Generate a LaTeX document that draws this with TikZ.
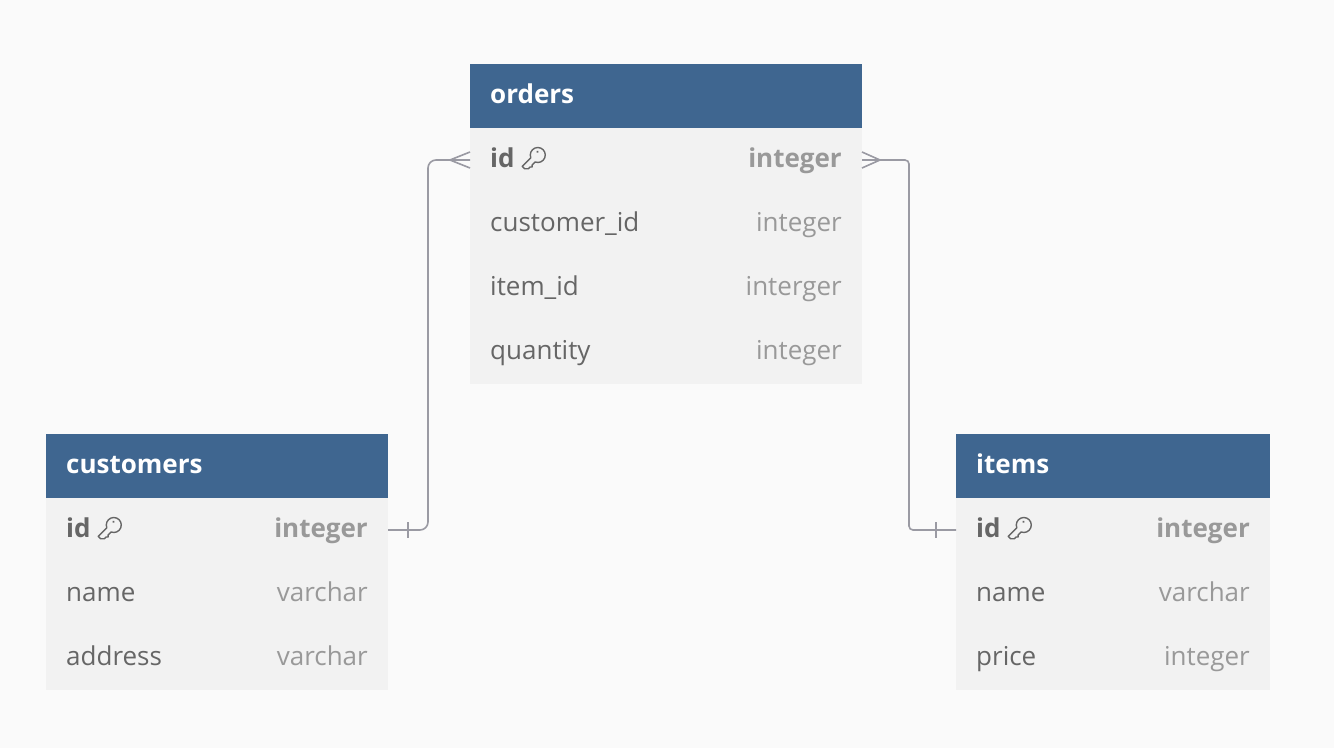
\documentclass[tikz,border=0pt]{standalone}
\usepackage{fontspec}
\setmainfont{Open Sans}
\usetikzlibrary{positioning}

\definecolor{bg}{HTML}{FAFAFA}
\definecolor{headblue}{HTML}{3F6690}
\definecolor{rowgrey}{HTML}{F2F2F2}
\definecolor{namegrey}{HTML}{666666}
\definecolor{typegrey}{HTML}{999999}
\definecolor{linegrey}{HTML}{9A9AA3}

\tikzset{
  tblhead/.style={fill=headblue, anchor=north west, minimum height=64pt, inner sep=0pt, outer sep=0pt},
  tblrow/.style={fill=rowgrey, anchor=north west, minimum height=64pt, inner sep=0pt, outer sep=0pt},
  tbltitle/.style={anchor=base west, inner sep=0pt, text=white, font=\fontsize{26}{30}\selectfont\bfseries},
  fname/.style={anchor=base west, inner sep=0pt, text=namegrey, font=\fontsize{26}{30}\selectfont},
  ftype/.style={anchor=base east, inner sep=0pt, text=typegrey, font=\fontsize{26}{30}\selectfont},
  keyname/.style={fname, font=\fontsize{26}{30}\selectfont\bfseries},
  keytype/.style={ftype, font=\fontsize{26}{30}\selectfont\bfseries},
  keyline/.style={draw=namegrey, line width=1.4pt, line join=round},
  conn/.style={draw=linegrey, line width=1.6pt},
  keyicon/.pic={
    \begin{scope}[rotate=225]
      \draw[keyline] (6.87pt,3pt) arc[start angle=23.6, end angle=336.4, radius=7.5pt]
        -- (19pt,-3pt) -- (19pt,0.5pt) -- (16.5pt,3pt) -- (14pt,3pt) -- (12.5pt,4.5pt) -- (11pt,3pt) -- cycle;
      \fill[namegrey] (-2.1pt,-2.5pt) circle (1.3pt);
    \end{scope}
  }
}

\begin{document}
\begin{tikzpicture}[x=1pt, y=-1pt]
\useasboundingbox[fill=bg] (0,0) rectangle (1334,748);

% orders
\node[tblhead, minimum width=392pt] (orders) at (470,64) {};
\node[tbltitle] at ([xshift=20pt,yshift=-7pt]orders.west) {orders};
\node[tblrow, minimum width=392pt, below=0pt of orders] (orders-1) {};
\node[keyname] (orders-idname) at ([xshift=20pt,yshift=-7pt]orders-1.west) {id};
\pic at ([xshift=23pt,yshift=12pt]orders-idname.base east) {keyicon};
\node[keytype] at ([xshift=-20pt,yshift=-7pt]orders-1.east) {integer};
\foreach \fname/\ftype [count=\i from 2] in {customer\_id/integer, item\_id/interger, quantity/integer} {
  \node[tblrow, minimum width=392pt] (orders-\i) at (470,{64+64*\i}) {};
  \node[fname] at ([xshift=20pt,yshift=-7pt]orders-\i.west) {\fname};
  \node[ftype] at ([xshift=-20pt,yshift=-7pt]orders-\i.east) {\ftype};
}

% customers
\node[tblhead, minimum width=342pt] (customers) at (46,434) {};
\node[tbltitle] at ([xshift=20pt,yshift=-7pt]customers.west) {customers};
\node[tblrow, minimum width=342pt, below=0pt of customers] (customers-1) {};
\node[keyname] (customers-idname) at ([xshift=20pt,yshift=-7pt]customers-1.west) {id};
\pic at ([xshift=23pt,yshift=12pt]customers-idname.base east) {keyicon};
\node[keytype] at ([xshift=-20pt,yshift=-7pt]customers-1.east) {integer};
\foreach \fname/\ftype [count=\i from 2] in {name/varchar, address/varchar} {
  \node[tblrow, minimum width=342pt] (customers-\i) at (46,{434+64*\i}) {};
  \node[fname] at ([xshift=20pt,yshift=-7pt]customers-\i.west) {\fname};
  \node[ftype] at ([xshift=-20pt,yshift=-7pt]customers-\i.east) {\ftype};
}

% items
\node[tblhead, minimum width=314pt] (items) at (956,434) {};
\node[tbltitle] at ([xshift=20pt,yshift=-7pt]items.west) {items};
\node[tblrow, minimum width=314pt, below=0pt of items] (items-1) {};
\node[keyname] (items-idname) at ([xshift=20pt,yshift=-7pt]items-1.west) {id};
\pic at ([xshift=23pt,yshift=12pt]items-idname.base east) {keyicon};
\node[keytype] at ([xshift=-20pt,yshift=-7pt]items-1.east) {integer};
\foreach \fname/\ftype [count=\i from 2] in {name/varchar, price/integer} {
  \node[tblrow, minimum width=314pt] (items-\i) at (956,{434+64*\i}) {};
  \node[fname] at ([xshift=20pt,yshift=-7pt]items-\i.west) {\fname};
  \node[ftype] at ([xshift=-20pt,yshift=-7pt]items-\i.east) {\ftype};
}

% relations
\coordinate (leftbend) at (428,344);
\coordinate (rightbend) at (909,344);
\draw[conn, rounded corners=8pt] (customers-1.east) -| (leftbend) |- (orders-1.west);
\draw[conn, rounded corners=4pt] (orders-1.east) -| (rightbend) |- (items-1.west);
% one side
\draw[conn] ([xshift=20pt,yshift=8pt]customers-1.east) -- ([xshift=20pt,yshift=-8pt]customers-1.east);
\draw[conn] ([xshift=-20pt,yshift=8pt]items-1.west) -- ([xshift=-20pt,yshift=-8pt]items-1.west);
% many side
\draw[conn] ([yshift=8pt]orders-1.west) -- ([xshift=-20pt]orders-1.west) -- ([yshift=-8pt]orders-1.west);
\draw[conn] ([yshift=8pt]orders-1.east) -- ([xshift=18pt]orders-1.east) -- ([yshift=-8pt]orders-1.east);
\end{tikzpicture}
\end{document}
